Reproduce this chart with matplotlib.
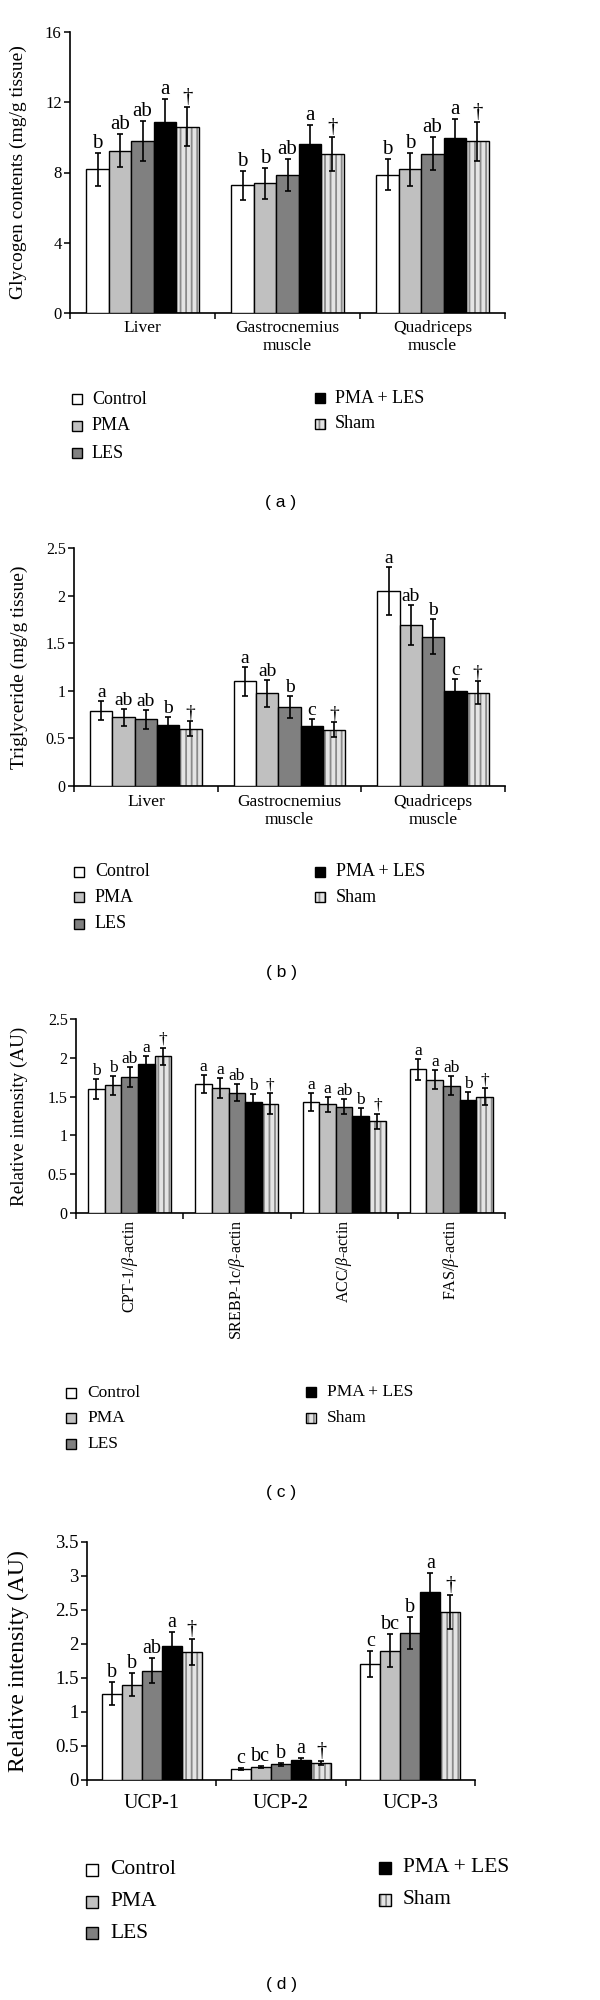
import matplotlib
matplotlib.use("Agg")
import matplotlib.pyplot as plt
from matplotlib.patches import Rectangle
import numpy as np

plt.rcParams["font.family"] = ["Liberation Serif", "DejaVu Serif"]
plt.rcParams["mathtext.fontset"] = "custom"
plt.rcParams["mathtext.rm"] = "Liberation Serif"
plt.rcParams["mathtext.it"] = "Liberation Serif:italic"
plt.rcParams["hatch.linewidth"] = 1.3

# --- data ---
groups = ["Control", "PMA", "LES", "PMA + LES", "Sham"]

glycogen_cats = ["Liver", "Gastrocnemius\nmuscle", "Quadriceps\nmuscle"]
glycogen_mean = [[8.18, 9.24, 9.81, 10.89, 10.61],
                 [7.27, 7.39, 7.88, 9.60, 9.07],
                 [7.88, 8.18, 9.07, 9.94, 9.77]]
glycogen_err = [[0.93, 0.93, 1.15, 1.27, 1.10],
                [0.83, 0.89, 0.91, 1.08, 0.97],
                [0.87, 0.93, 0.95, 1.12, 1.12]]
glycogen_marks = [["b", "ab", "ab", "a", "†"],
                  ["b", "b", "ab", "a", "†"],
                  ["b", "b", "ab", "a", "†"]]

tg_cats = ["Liver", "Gastrocnemius\nmuscle", "Quadriceps\nmuscle"]
tg_mean = [[0.79, 0.72, 0.70, 0.64, 0.60],
           [1.10, 0.975, 0.83, 0.63, 0.59],
           [2.05, 1.69, 1.57, 1.00, 0.98]]
tg_err = [[0.10, 0.09, 0.10, 0.09, 0.08],
          [0.15, 0.14, 0.12, 0.07, 0.08],
          [0.25, 0.21, 0.18, 0.12, 0.12]]
tg_marks = [["a", "ab", "ab", "b", "†"],
            ["a", "ab", "b", "c", "†"],
            ["a", "ab", "b", "c", "†"]]

lipid_cats = ["CPT-1/$\\beta$-actin", "SREBP-1c/$\\beta$-actin",
              "ACC/$\\beta$-actin", "FAS/$\\beta$-actin"]
lipid_mean = [[1.60, 1.645, 1.75, 1.92, 2.02],
              [1.66, 1.61, 1.55, 1.43, 1.41],
              [1.43, 1.40, 1.37, 1.25, 1.18],
              [1.85, 1.72, 1.64, 1.46, 1.50]]
lipid_err = [[0.13, 0.12, 0.13, 0.10, 0.11],
             [0.12, 0.13, 0.11, 0.10, 0.13],
             [0.11, 0.10, 0.10, 0.10, 0.10],
             [0.13, 0.12, 0.12, 0.10, 0.11]]
lipid_marks = [["b", "b", "ab", "a", "†"],
               ["a", "a", "ab", "b", "†"],
               ["a", "a", "ab", "b", "†"],
               ["a", "a", "ab", "b", "†"]]

ucp_cats = ["UCP-1", "UCP-2", "UCP-3"]
ucp_mean = [[1.27, 1.40, 1.61, 1.97, 1.88],
            [0.16, 0.19, 0.23, 0.30, 0.25],
            [1.71, 1.90, 2.16, 2.77, 2.47]]
ucp_err = [[0.17, 0.17, 0.19, 0.20, 0.19],
           [0.02, 0.02, 0.025, 0.03, 0.03],
           [0.19, 0.24, 0.23, 0.27, 0.25]]
ucp_marks = [["b", "b", "ab", "a", "†"],
             ["c", "bc", "b", "a", "†"],
             ["c", "bc", "b", "a", "†"]]

# --- styling ---
W, H = 600, 2000
BAR_W = 0.155
FACES = ["white", "#c0c0c0", "#808080", "black", "#e4e4e4"]
SHAM_LINES = "#8a8a8a"

fig = plt.figure(figsize=(W / 100, H / 100), dpi=100)


def px_axes(left, top, right, bottom):
    return fig.add_axes([left / W, 1 - bottom / H, (right - left) / W, (bottom - top) / H])


def draw_panel(ax, cats, means, errs, marks, ylim, yticks, ylabel, fs_tick, fs_cat,
               fs_label, fs_mark, label_x, cat_pad, rotate=False):
    means = np.array(means)
    errs = np.array(errs)
    x = np.arange(len(cats))
    for j, g in enumerate(groups):
        pos = x + (j - 2) * BAR_W
        if g == "Sham":
            ax.bar(pos, means[:, j], BAR_W, color=FACES[j], edgecolor=SHAM_LINES,
                   hatch="|||", linewidth=0, zorder=2)
            ax.bar(pos, means[:, j], BAR_W, fill=False, edgecolor="black", linewidth=1, zorder=3)
        else:
            ax.bar(pos, means[:, j], BAR_W, color=FACES[j], edgecolor="black",
                   linewidth=1, zorder=3)
        ax.errorbar(pos, means[:, j], yerr=errs[:, j], fmt="none", ecolor="black",
                    elinewidth=1.2, capsize=2.2, capthick=1.2, zorder=4)
        for xi, m, e, t in zip(pos, means[:, j], errs[:, j], [mk[j] for mk in marks]):
            ax.annotate(t, (xi, m + e), xytext=(0, 0), textcoords="offset points",
                        ha="center", va="bottom", fontsize=fs_mark)

    ax.set_xlim(-0.5, len(cats) - 0.5)
    ax.set_ylim(*ylim)
    ax.set_yticks(yticks)
    ax.set_yticklabels([f"{v:g}" for v in yticks], fontsize=fs_tick)
    ax.set_xticks(x)
    ax.set_xticklabels(cats, fontsize=fs_cat, rotation=90 if rotate else 0,
                       linespacing=1.15)
    ax.set_xticks(np.arange(len(cats) + 1) - 0.5, minor=True)
    ax.tick_params(axis="x", which="major", length=0, pad=cat_pad)
    ax.tick_params(axis="x", which="minor", length=4, width=1.1, direction="out")
    ax.tick_params(axis="y", length=4, width=1.1, direction="out", pad=2)
    for s in ("top", "right"):
        ax.spines[s].set_visible(False)
    for s in ("left", "bottom"):
        ax.spines[s].set_linewidth(1.2)
    ax.set_ylabel(ylabel, fontsize=fs_label)
    bb = ax.get_position()
    ax.yaxis.set_label_coords((label_x / W - bb.x0) / bb.width, 0.5)


def draw_legend(left_x, right_x, left_rows, right_rows, text_gap, sq, fs):
    spots = [(left_x, y) for y in left_rows] + [(right_x, y) for y in right_rows]
    for (cx, cy), g, face in zip(spots, groups, FACES):
        xy = ((cx - sq / 2) / W, 1 - (cy + sq / 2) / H)
        if g == "Sham":
            fig.add_artist(Rectangle(xy, sq / W, sq / H, transform=fig.transFigure,
                                     facecolor=face, edgecolor=SHAM_LINES, hatch="|||",
                                     linewidth=0))
            fig.add_artist(Rectangle(xy, sq / W, sq / H, transform=fig.transFigure,
                                     fill=False, edgecolor="black", linewidth=1))
        else:
            fig.add_artist(Rectangle(xy, sq / W, sq / H, transform=fig.transFigure,
                                     facecolor=face, edgecolor="black", linewidth=1))
        fig.text((cx + text_gap) / W, 1 - cy / H, g, fontsize=fs, va="center", ha="left")


def panel_tag(tag, y):
    fig.text(281 / W, 1 - y / H, f"( {tag} )", fontsize=12.5, ha="center", va="center",
             family=["Liberation Sans", "DejaVu Sans"])


# (a) glycogen
ax_a = px_axes(70, 32, 505, 313)
draw_panel(ax_a, glycogen_cats, glycogen_mean, glycogen_err, glycogen_marks,
           (0, 16), [0, 4, 8, 12, 16], "Glycogen contents (mg/g tissue)",
           12, 12.5, 14, 15, 27, 5)
draw_legend(77, 320, [399, 426, 453], [398, 424], 15, 10, 13)
panel_tag("a", 502)

# (b) triglyceride
ax_b = px_axes(74, 548, 505, 786)
draw_panel(ax_b, tg_cats, tg_mean, tg_err, tg_marks,
           (0, 2.5), [0, 0.5, 1, 1.5, 2, 2.5], "Triglyceride (mg/g tissue)",
           11.5, 12.5, 14, 14, 28, 6)
draw_legend(79, 320, [872, 897, 924], [872, 897], 16, 10, 13)
panel_tag("b", 972)

# (c) lipid metabolism genes
ax_c = px_axes(76, 1019, 505, 1213)
draw_panel(ax_c, lipid_cats, lipid_mean, lipid_err, lipid_marks,
           (0, 2.5), [0, 0.5, 1, 1.5, 2, 2.5], "Relative intensity (AU)",
           11.5, 11.5, 13.8, 12.5, 28, 5, rotate=True)
draw_legend(71, 311, [1393, 1418, 1444], [1392, 1418], 16, 10, 12.5)
panel_tag("c", 1492)

# (d) UCPs
ax_d = px_axes(87, 1542, 475, 1780)
draw_panel(ax_d, ucp_cats, ucp_mean, ucp_err, ucp_marks,
           (0, 3.5), [0, 0.5, 1, 1.5, 2, 2.5, 3, 3.5], "Relative intensity (AU)",
           13.5, 14.5, 17, 14.5, 29, 10)
draw_legend(92, 385, [1870, 1902, 1933], [1868, 1900], 18, 12, 15.5)
panel_tag("d", 1985)

fig.savefig("out.png", dpi=100, facecolor="white")
